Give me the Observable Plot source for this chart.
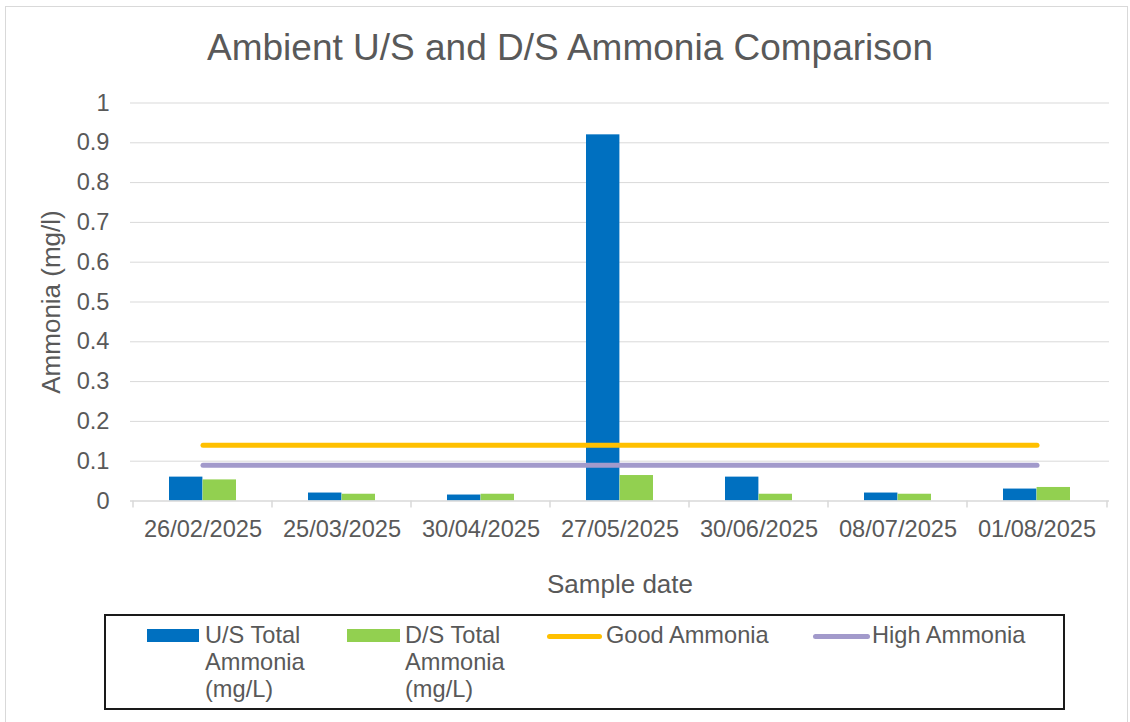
<!DOCTYPE html>
<html>
<head>
<meta charset="utf-8">
<script src="https://cdn.jsdelivr.net/npm/d3@7"></script>
<script src="https://cdn.jsdelivr.net/npm/@observablehq/plot@0.6"></script>
<style>
  html, body { margin: 0; padding: 0; background: #fff; }
  body { width: 1130px; height: 722px; position: relative; overflow: hidden;
         font-family: "Liberation Sans", Arial, sans-serif; color: #595959; }
  #frame { position: absolute; left: 5px; top: 6px; width: 1123px; height: 740px;
           border: 1px solid #d9d9d9; box-sizing: border-box; }
  #title { position: absolute; left: 0; top: 29px; width: 1140px; text-align: center;
           font-size: 37px; line-height: 37px; white-space: nowrap; }
  #chart { position: absolute; left: 0; top: 80px; }
  #legend { position: absolute; left: 104px; top: 614px; width: 961px; height: 96px;
            border: 2px solid #1a1a1a; box-sizing: border-box; }
  .sw { position: absolute; }
  .lt { position: absolute; font-size: 23.6px; line-height: 27px; white-space: nowrap; top: 622px; }
</style>
</head>
<body>
<div id="frame"></div>
<div id="title">Ambient U/S and D/S Ammonia Comparison</div>
<div id="chart"></div>
<div id="legend"></div>
<div id="legendItems"></div>
<script>
// ---- data ----
const dates = ["26/02/2025", "25/03/2025", "30/04/2025", "27/05/2025", "30/06/2025", "08/07/2025", "01/08/2025"];
const usAmmonia = [0.06, 0.02, 0.015, 0.92, 0.06, 0.02, 0.03];
const dsAmmonia = [0.053, 0.017, 0.017, 0.064, 0.017, 0.017, 0.034];
const goodAmmonia = [0.14, 0.14, 0.14, 0.14, 0.14, 0.14, 0.14];
const highAmmonia = [0.09, 0.09, 0.09, 0.09, 0.09, 0.09, 0.09];
const yTicks = [0, 0.1, 0.2, 0.3, 0.4, 0.5, 0.6, 0.7, 0.8, 0.9, 1];
const seriesNames = ["U/S Total Ammonia (mg/L)", "D/S Total Ammonia (mg/L)", "Good Ammonia", "High Ammonia"];

const rows = dates.map((d, i) => ({date: d, us: usAmmonia[i], ds: dsAmmonia[i], good: goodAmmonia[i], high: highAmmonia[i]}));

const colors = {us: "#0070c0", ds: "#92d050", good: "#ffc000", high: "#a29acb"};
const grid = "#d9d9d9";
const halfBand = 33.6;

const chart = Plot.plot({
  width: 1130,
  height: 530,
  marginTop: 22.5,
  marginBottom: 109.5,
  marginLeft: 130,
  marginRight: 21,
  style: {fontFamily: "'Liberation Sans', Arial, sans-serif", color: "#595959", background: "transparent", overflow: "visible"},
  x: {domain: dates, paddingInner: 0.52, paddingOuter: 0.26, label: null},
  y: {domain: [0, 1], label: null},
  marks: [
    Plot.gridY(yTicks.slice(1), {stroke: grid, strokeOpacity: 1, strokeWidth: 1}),
    Plot.axisY(yTicks, {tickSize: 0, tickPadding: 21, tickFormat: d3.format("~g"), fontSize: 23.6, label: null}),
    Plot.axisX({tickSize: 0, tickPadding: 19.5, fontSize: 23.6, label: null}),
    Plot.axisX(dates, {tickSize: 7, tickFormat: () => "", dx: -70, stroke: grid, strokeOpacity: 1, strokeWidth: 1.5, label: null}),
    Plot.axisX([dates[dates.length - 1]], {tickSize: 7, tickFormat: () => "", dx: 70, stroke: grid, strokeOpacity: 1, strokeWidth: 1.5, label: null}),
    Plot.barY(rows, {x: "date", y: "us", fill: colors.us, insetRight: halfBand}),
    Plot.barY(rows, {x: "date", y: "ds", fill: colors.ds, insetLeft: halfBand}),
    Plot.ruleY([0], {stroke: grid, strokeWidth: 1.5}),
    Plot.lineY(rows, {x: "date", y: "good", stroke: colors.good, strokeWidth: 5, strokeLinecap: "round"}),
    Plot.lineY(rows, {x: "date", y: "high", stroke: colors.high, strokeWidth: 5, strokeLinecap: "round"}),
    Plot.text(["Ammonia (mg/l)"], {text: d => d, frameAnchor: "left", dx: -79, rotate: -90, textAnchor: "middle", lineAnchor: "middle", fontSize: 26, fill: "#595959"}),
    Plot.text(["Sample date"], {text: d => d, frameAnchor: "bottom", dy: 83.7, textAnchor: "middle", lineAnchor: "middle", fontSize: 26, fill: "#595959"})
  ]
});
document.getElementById("chart").appendChild(chart);

// ---- legend ----
const li = document.getElementById("legendItems");
function addSwatch(left, top, w, h, color, round) {
  const s = document.createElement("div");
  s.className = "sw";
  s.style.left = left + "px"; s.style.top = top + "px";
  s.style.width = w + "px"; s.style.height = h + "px";
  s.style.background = color;
  if (round) s.style.borderRadius = (h / 2) + "px";
  li.appendChild(s);
}
function addText(left, lines) {
  const t = document.createElement("div");
  t.className = "lt";
  t.style.left = left + "px";
  lines.forEach((ln, i) => {
    if (i) t.appendChild(document.createElement("br"));
    t.appendChild(document.createTextNode(ln));
  });
  li.appendChild(t);
}
addSwatch(147, 629, 52, 13, colors.us, false);
addText(205, ["U/S Total", "Ammonia", "(mg/L)"]);
addSwatch(347, 629, 53, 13, colors.ds, false);
addText(405, ["D/S Total", "Ammonia", "(mg/L)"]);
addSwatch(547, 633.5, 55, 5, colors.good, true);
addText(606, [seriesNames[2]]);
addSwatch(813, 633.5, 57, 5, colors.high, true);
addText(872, [seriesNames[3]]);
</script>
</body>
</html>
